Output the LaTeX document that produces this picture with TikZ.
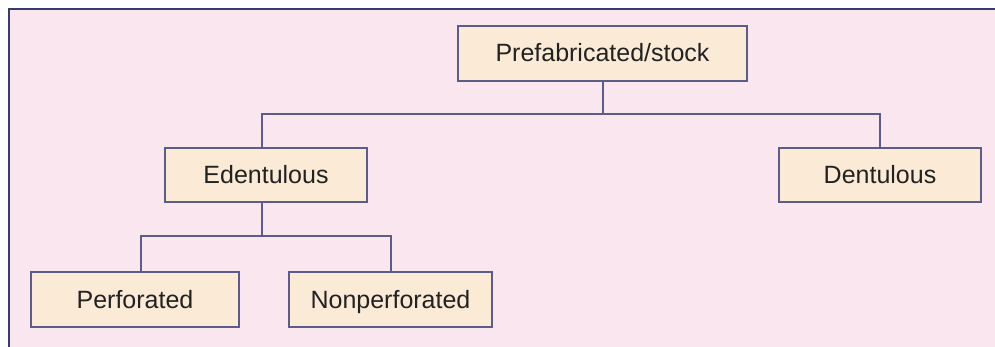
\documentclass[tikz,border=0pt]{standalone}
\usepackage{fontspec}
\setmainfont{Liberation Sans}
\definecolor{pagebg}{HTML}{F9E6EF}
\definecolor{boxfill}{HTML}{FBEBD6}
\definecolor{boxline}{HTML}{5C5C8C}
\definecolor{framecol}{HTML}{3A3A70}
\definecolor{txt}{HTML}{222222}
\begin{document}
\begin{tikzpicture}[x=1pt,y=-1pt,
  catbox/.style={draw=boxline, line width=2pt, fill=boxfill, inner sep=0pt,
    minimum height=55pt, text=txt, text height=18pt, text depth=1pt,
    font=\fontsize{25}{30}\selectfont},
  link/.style={draw=boxline, line width=2pt}]
  % page and frame
  \fill[white] (0,0) rectangle (995,347);
  \fill[pagebg] (9,9) rectangle (995,347);
  \useasboundingbox (0,0) rectangle (995,347);
  \draw[framecol, line width=2pt] (9,347) -- (9,9) -- (995,9);

  % boxes
  \node[catbox, minimum width=289pt] (pre)  at (602.5,53.5) {Prefabricated/stock};
  \node[catbox, minimum width=202pt, minimum height=54pt] (ede)  at (266,175) {Edentulous};
  \node[catbox, minimum width=202pt, minimum height=54pt] (den)  at (880,175) {Dentulous};
  \node[catbox, minimum width=208pt] (perf) at (135,299.5) {Perforated};
  \node[catbox, minimum width=203pt] (nonp) at (390.5,299.5) {Nonperforated};

  % junctions
  \coordinate (j1) at (602.5,114);
  \coordinate (j2) at (262,236);

  % connectors
  \draw[link] (pre.south) -- (j1);
  \draw[link] (j1) -| ([xshift=-4pt]ede.north);
  \draw[link] (j1) -| (den.north);
  \draw[link] (j2 |- ede.south) -- (j2);
  \draw[link] (j2) -| ([xshift=6pt]perf.north);
  \draw[link] (j2) -| (nonp.north);
\end{tikzpicture}
\end{document}
